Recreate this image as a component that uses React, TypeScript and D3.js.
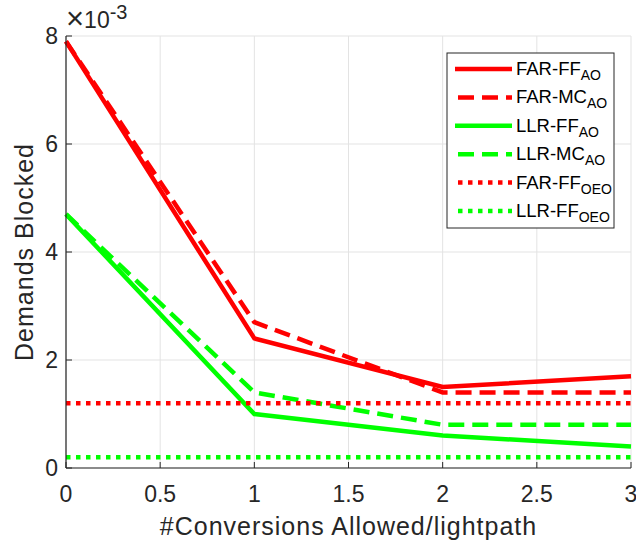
import React from "react";
import * as d3 from "d3";

const xValues = [0, 1, 2, 3];
const seriesNames = ["FAR-FF", "FAR-MC", "LLR-FF", "LLR-MC", "FAR-FF", "LLR-FF"];
const seriesSubs = ["AO", "AO", "AO", "AO", "OEO", "OEO"];
const seriesColors = ["#ff0000", "#ff0000", "#00ff00", "#00ff00", "#ff0000", "#00ff00"];
const seriesStyles = ["solid", "dashed", "solid", "dashed", "dotted", "dotted"];
const farFfAo = [7.9, 2.4, 1.5, 1.7];
const farMcAo = [7.9, 2.7, 1.4, 1.4];
const llrFfAo = [4.7, 1.0, 0.6, 0.4];
const llrMcAo = [4.7, 1.4, 0.8, 0.8];
const farFfOeo = [1.2, 1.2, 1.2, 1.2];
const llrFfOeo = [0.2, 0.2, 0.2, 0.2];
const seriesValues = [farFfAo, farMcAo, llrFfAo, llrMcAo, farFfOeo, llrFfOeo];
const xTicks = [0, 0.5, 1, 1.5, 2, 2.5, 3];
const yTicks = [0, 2, 4, 6, 8];

const W = 636, H = 545;
const L = 66, R = 631, T = 36, B = 468;
const font = "Liberation Sans, Arial, Helvetica, sans-serif";
const ink = "#262626";

function dash(style: string) {
  if (style === "dashed") return "16,8";
  if (style === "dotted") return "4.5,5.5";
  return undefined;
}

export default function App() {
  const x = d3.scaleLinear().domain([0, 3]).range([L, R]);
  const y = d3.scaleLinear().domain([0, 8]).range([B, T]);
  const line = d3.line<number>().x((_, i) => x(xValues[i])).y((d) => y(d));
  const legX = 447, legY = 53, legW = 167, legH = 175;
  const rowH = 28.4;
  return (
    <svg width={W} height={H} style={{ position: "absolute", left: 0, top: 0, background: "#fff" }}>
      <rect x={0} y={0} width={W} height={H} fill="#fff" />
      {xTicks.map((t) => (
        <line key={"gx" + t} x1={x(t)} x2={x(t)} y1={T} y2={B} stroke="#e3e3e3" strokeWidth={1} />
      ))}
      {yTicks.map((t) => (
        <line key={"gy" + t} x1={L} x2={R} y1={y(t)} y2={y(t)} stroke="#e3e3e3" strokeWidth={1} />
      ))}
      {seriesValues.map((vals, i) => (
        <path
          key={"s" + i}
          d={line(vals) || ""}
          fill="none"
          stroke={seriesColors[i]}
          strokeWidth={4.5}
          strokeDasharray={dash(seriesStyles[i])}
        />
      ))}
      <line x1={L} x2={L} y1={T} y2={B} stroke={ink} strokeWidth={1.2} />
      <line x1={L} x2={R} y1={B} y2={B} stroke={ink} strokeWidth={1.2} />
      {xTicks.map((t) => (
        <g key={"xt" + t}>
          <line x1={x(t)} x2={x(t)} y1={B} y2={B - 6} stroke={ink} />
          <text x={x(t)} y={B + 34} textAnchor="middle" fontFamily={font} fontSize={23} fill={ink}>
            {String(t)}
          </text>
        </g>
      ))}
      {yTicks.map((t) => (
        <g key={"yt" + t}>
          <line x1={L} x2={L + 6} y1={y(t)} y2={y(t)} stroke={ink} />
          <text x={L - 8} y={y(t) + 8} textAnchor="end" fontFamily={font} fontSize={23} fill={ink}>
            {String(t)}
          </text>
        </g>
      ))}
      <text x={66} y={29} fontFamily={font} fontSize={23} fill={ink}>
        <tspan fontSize={31}>×</tspan>
        <tspan dy={-1}>10</tspan>
        <tspan dy={-9} fontSize={20}>-3</tspan>
      </text>
      <text
        x={(L + R) / 2}
        y={535}
        textAnchor="middle"
        fontFamily={font}
        fontSize={25}
        letterSpacing={1}
        fill={ink}
      >
        #Conversions Allowed/lightpath
      </text>
      <text
        transform={`translate(33,${(T + B) / 2}) rotate(-90)`}
        textAnchor="middle"
        fontFamily={font}
        fontSize={25}
        letterSpacing={1}
        fill={ink}
      >
        Demands Blocked
      </text>
      <rect x={legX} y={legY} width={legW} height={legH} fill="#fff" stroke={ink} strokeWidth={1} />
      {seriesNames.map((n, i) => {
        const cy = legY + 16 + i * rowH;
        const start = seriesStyles[i] === "solid" ? legX + 8 : legX + 11;
        return (
          <g key={"lg" + i}>
            <line
              x1={start}
              x2={legX + 65}
              y1={cy}
              y2={cy}
              stroke={seriesColors[i]}
              strokeWidth={4.5}
              strokeDasharray={dash(seriesStyles[i])}
            />
            <text x={legX + 69} y={cy + 6} fontFamily={font} fontSize={18.5} fill="#000">
              {n}
              <tspan dy={5} fontSize={14}>{seriesSubs[i]}</tspan>
            </text>
          </g>
        );
      })}
    </svg>
  );
}
